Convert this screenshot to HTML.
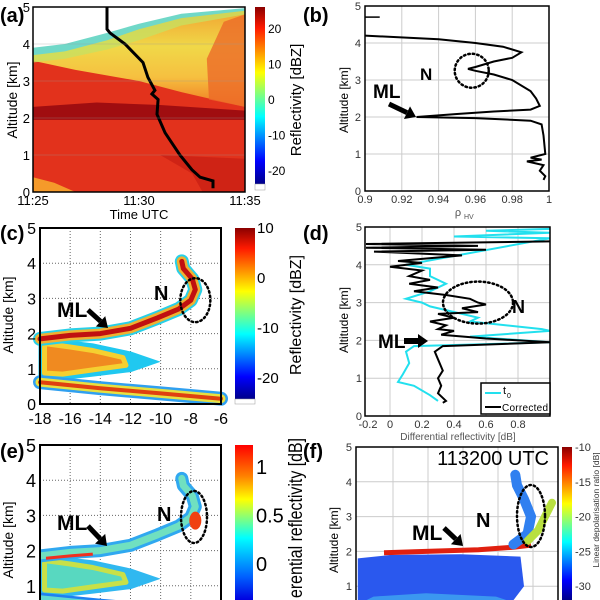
<!DOCTYPE html>
<html><head><meta charset="utf-8">
<style>
html,body{margin:0;padding:0;background:#fff;overflow:hidden;width:600px;height:600px;}
svg{display:block;font-family:"Liberation Sans",Arial,sans-serif;}
</style></head>
<body>
<svg id="fig" width="600" height="600" viewBox="0 0 600 600" xmlns="http://www.w3.org/2000/svg">
<defs>
<linearGradient id="jetV" x1="0" y1="0" x2="0" y2="1">
<stop offset="0" stop-color="#8a0000"/><stop offset="0.12" stop-color="#ff1a00"/><stop offset="0.37" stop-color="#ffff00"/><stop offset="0.62" stop-color="#00ffff"/><stop offset="0.87" stop-color="#0000ff"/><stop offset="1" stop-color="#00008a"/>
</linearGradient>
<linearGradient id="jetE" x1="0" y1="0" x2="0" y2="1">
<stop offset="0" stop-color="#ff0000"/><stop offset="0.2" stop-color="#ff8000"/><stop offset="0.35" stop-color="#ffff00"/><stop offset="0.6" stop-color="#00ffff"/><stop offset="0.85" stop-color="#0060ff"/><stop offset="1" stop-color="#0000e0"/>
</linearGradient>
<linearGradient id="upA" x1="0" y1="1" x2="0" y2="0">
<stop offset="0" stop-color="#f07a22"/><stop offset="0.3" stop-color="#f6c040"/><stop offset="0.6" stop-color="#f0d848"/><stop offset="1" stop-color="#f2a030"/>
</linearGradient>
<clipPath id="clipA"><rect x="33" y="7" width="212" height="185"/></clipPath>
<clipPath id="clipE"><rect x="40" y="445" width="181" height="155"/></clipPath>
<clipPath id="clipF"><rect x="356" y="447" width="202" height="153"/></clipPath>
<clipPath id="clipAll"><rect x="0" y="0" width="600" height="600"/></clipPath>
</defs>
<g id="root" clip-path="url(#clipAll)"></g>
</svg>
<script>
// ---- data: panel (a) profile track (minutes after 11:25, altitude km)
var trackTime = [3.49,3.49,3.63,4.34,5.19,5.42,5.75,5.61,5.90,5.85,6.23,6.93,7.5,7.88,8.49,8.49];
var trackAlt  = [5.0,4.4,4.3,4.0,3.5,3.1,2.75,2.65,2.5,2.1,1.6,1.0,0.6,0.4,0.3,0.1];
var aColorTicks = [20,10,0,-10,-20];
// ---- panel (b) rhoHV profile
var rhoVal = [0.9,0.94,0.96,0.975,0.985,0.98,0.97,0.96,0.956,0.96,0.97,0.98,0.99,0.993,0.995,0.99,0.97,0.95,0.928,0.96,0.99,0.996,0.997,0.998,0.99,0.996,0.988,0.997,0.995,0.998,0.997];
var rhoAlt = [4.2,4.1,4.0,3.9,3.75,3.6,3.5,3.35,3.3,3.25,3.15,3.0,2.7,2.5,2.3,2.2,2.15,2.08,2.0,1.97,1.9,1.8,1.5,1.0,0.9,0.85,0.8,0.7,0.55,0.4,0.3];
var bXTicks = [0.9,0.92,0.94,0.96,0.98,1];
// ---- panel (d) differential reflectivity profiles
var zdrCorr = [1.0,-0.15,0.55,-0.15,0.6,-0.1,0.45,0.05,0.2,0.0,0.2,0.12,0.25,0.12,0.3,0.15,0.35,0.5,0.55,0.6,0.45,0.55,0.3,0.4,0.25,0.35,0.3,0.4,0.32,0.6,1.0,0.33,0.28,0.3,0.33,0.3,0.32,0.3,0.35,0.33];
var altCorr = [4.62,4.55,4.5,4.45,4.4,4.35,4.25,4.1,4.05,3.95,3.85,3.7,3.6,3.5,3.4,3.3,3.2,3.1,3.0,2.95,2.85,2.75,2.7,2.6,2.5,2.4,2.3,2.25,2.15,2.05,1.95,1.85,1.7,1.5,1.2,1.0,0.8,0.6,0.4,0.35];
var zdrT0 = [1.0,0.6,1.0,0.4,1.0,0.1,0.25,0.25,0.35,0.25,0.1,0.2,0.25,0.45,0.55,0.5,0.95,1.0,0.5,1.0,0.15,0.1,0.12,0.08,0.05,0.15,0.25,0.3];
var altT0  = [4.95,4.9,4.85,4.75,4.7,4.0,3.9,3.7,3.5,3.3,3.1,3.0,2.9,2.7,2.6,2.5,2.3,2.25,2.1,1.95,1.85,1.7,1.4,1.1,0.9,0.8,0.55,0.4];
var dXTicks = [-0.2,0,0.2,0.4,0.6,0.8];
var altTicks = [0,1,2,3,4,5];
var cXTicks = [-18,-16,-14,-12,-10,-8,-6];
var cColorTicks = [10,0,-10,-20];
var eColorTicks = [1,0.5,0];
var fColorTicks = [-10,-15,-20,-25,-30];

var NS="http://www.w3.org/2000/svg";
var root=document.getElementById('root');
function el(tag,attrs,parent,txt){var e=document.createElementNS(NS,tag);for(var k in attrs)e.setAttribute(k,attrs[k]);if(txt!==undefined)e.textContent=txt;(parent||root).appendChild(e);return e;}
function path(xs,ys,sx,sy){var d='';for(var i=0;i<xs.length;i++)d+=(i?'L':'M')+sx(xs[i]).toFixed(1)+','+sy(ys[i]).toFixed(1);return d;}
function poly(pts,sx,sy){return pts.map(function(p){return sx(p[0]).toFixed(1)+','+sy(p[1]).toFixed(1);}).join(' ');}
function label(x,y,t,size,extra){var e=el('text',{x:x,y:y,'font-size':size,'fill':'#000'},root,t);if(extra)for(var k in extra)e.setAttribute(k,extra[k]);return e;}
function arrow(x1,y1,x2,y2,w){var g=el('g',{});var a=Math.atan2(y2-y1,x2-x1),hl=10,hw=7;var bx=x2-hl*Math.cos(a),by=y2-hl*Math.sin(a);
 el('line',{x1:x1,y1:y1,x2:bx,y2:by,stroke:'#000','stroke-width':w||5},g);
 el('polygon',{points:x2+','+y2+' '+(bx+hw*Math.sin(a))+','+(by-hw*Math.cos(a))+' '+(bx-hw*Math.sin(a))+','+(by+hw*Math.cos(a)),fill:'#000'},g);return g;}

// ================= Panel (a)
var ax=function(t){return 33+t*21.2;}, ay=function(a){return 192-a*37;};
var pa=el('g',{'clip-path':'url(#clipA)'});


el('rect',{x:33,y:7,width:212,height:185,fill:'#e2321c'},pa);
el('polygon',{points:poly([[0,0],[2,0],[1,0.25],[0,0.4]],ax,ay),fill:'#f59a2a'},pa);
el('polygon',{points:poly([[0,3.55],[2,3.3],[5,3.0],[7,2.7],[10,2.3],[10,5],[0,5]],ax,ay),fill:'url(#upA)'},pa);
el('polygon',{points:poly([[8.3,2.5],[10,2.3],[10,4.8],[9,4.6],[8.2,3.6]],ax,ay),fill:'#ec6a28',opacity:0.8},pa);
el('polygon',{points:poly([[0,3.5],[1.5,3.6],[3.5,3.85],[5,4.1],[7,4.5],[10,4.8],[10,5],[0,5]],ax,ay),fill:'#c8e060',opacity:0.8},pa);
el('polygon',{points:poly([[0,3.7],[1.5,3.8],[3.5,4.1],[5,4.4],[7,4.7],[10,4.9],[10,5],[0,5]],ax,ay),fill:'#70d8c8'},pa);
el('polygon',{points:poly([[0,3.9],[1.5,4.0],[3.5,4.3],[5,4.55],[7,4.82],[10,4.97],[10,5],[0,5]],ax,ay),fill:'#fff'},pa);
el('polygon',{points:poly([[0,1.95],[10,1.95],[10,2.2],[6,2.35],[3,2.42],[0,2.3]],ax,ay),fill:'#a00d10'},pa);
el('polygon',{points:poly([[6,1.0],[10,0.9],[10,0],[8,0],[7.5,0.5]],ax,ay),fill:'#c81c12',opacity:0.7},pa);
var tr=el('path',{d:path(trackTime,trackAlt,ax,ay),fill:'none',stroke:'#000','stroke-width':3},pa);


altTicks.forEach(function(v){if(v>0&&v<5)el('line',{x1:33,x2:245,y1:ay(v),y2:ay(v),stroke:'#999','stroke-width':0.5,opacity:0.6},pa);});
el('rect',{x:33,y:7,width:212,height:185,fill:'none',stroke:'#000','stroke-width':1.5});
altTicks.forEach(function(v){label(30,ay(v)+5,String(v),13,{'text-anchor':'end'});});
['11:25','11:30','11:35'].forEach(function(s,i){label(33+i*106,205,s,13,{'text-anchor':'middle'});});
label(139,219,'Time UTC',13,{'text-anchor':'middle'});
label(17,100,'Altitude [km]',14,{'text-anchor':'middle',transform:'rotate(-90 17 100)'});
el('rect',{x:255,y:7,width:10,height:177,fill:'url(#jetV)'});
el('rect',{x:255,y:184,width:10,height:6,fill:'#fff',stroke:'#999','stroke-width':0.5});
aColorTicks.forEach(function(v){label(268,99-v*3.55+5,String(v),12);});
label(301,100,'Reflectivity [dBZ]',15,{'text-anchor':'middle',transform:'rotate(-90 301 100)'});
label(0,22,'(a)',20,{'font-weight':'bold'});

// ================= Panel (b)
var bx=function(v){return 365+(v-0.9)*1840;}, by=function(a){return 191-a*37;};
var pb=el('g',{});


bXTicks.forEach(function(v){if(v>0.9&&v<1)el('line',{x1:bx(v),x2:bx(v),y1:6,y2:191,stroke:'#ccc'},pb);label(bx(v),203,String(v),11,{'text-anchor':'middle',fill:'#333'});});
altTicks.forEach(function(v){if(v>0&&v<5)el('line',{x1:365,x2:549,y1:by(v),y2:by(v),stroke:'#ccc'},pb);label(361,by(v)+4,String(v),11,{'text-anchor':'end',fill:'#333'});});
el('line',{x1:bx(0.9),x2:bx(0.908),y1:by(4.7),y2:by(4.7),stroke:'#000','stroke-width':1.5},pb);
var lb=el('path',{d:path(rhoVal,rhoAlt,bx,by),fill:'none',stroke:'#000','stroke-width':2},pb);


el('rect',{x:365,y:6,width:184,height:185,fill:'none',stroke:'#000','stroke-width':1.5},pb);
el('ellipse',{cx:bx(0.958),cy:by(3.25),rx:17,ry:17,fill:'none',stroke:'#000','stroke-width':2.5,'stroke-dasharray':'1.5 3','stroke-linecap':'round'},pb);
label(420,80,'N',17,{'font-weight':'bold'});
label(373,98,'ML',19,{'font-weight':'bold'});
arrow(389,104,416,117,5);
label(458,216,'ρ',11,{'text-anchor':'middle',fill:'#555'});
label(464,219,'HV',7,{fill:'#555'});
label(348,100,'Altitude [km]',12,{'text-anchor':'middle',transform:'rotate(-90 348 100)'});
label(303,22,'(b)',20,{'font-weight':'bold'});

// ================= Panel (c) & (e) shared geometry
function band(g,sx,sy,xs,ys,widths,colors){for(var i=0;i<widths.length;i++)el('path',{d:path(xs,ys,sx,sy),fill:'none',stroke:colors[i],'stroke-width':widths[i],'stroke-linejoin':'round','stroke-linecap':'round'},g);}
function wedge(g,sx,sy,outer,inner,c1,c2,c3){el('polygon',{points:poly(outer,sx,sy),fill:c1,stroke:c1,'stroke-width':3},g);el('polygon',{points:poly(inner,sx,sy),fill:c2,stroke:c3,'stroke-width':5,'stroke-linejoin':'round'},g);}
var wOuter=[[-18,1.85],[-16.5,1.78],[-14.5,1.68],[-12,1.45],[-10.3,1.2],[-12,0.95],[-14.5,0.82],[-17,0.7],[-18,0.75]];
var wInner=[[-17.7,1.72],[-16,1.62],[-14.5,1.52],[-12.5,1.32],[-12.3,1.1],[-14.5,0.97],[-16.5,0.85],[-17.7,0.88]];
var mlX=[-18,-16,-14,-12,-10.2,-8.8,-8.0,-7.7,-7.9,-8.5,-8.6];
var mlY=[1.85,1.95,2.0,2.15,2.45,2.7,2.95,3.25,3.55,3.85,4.05];
var loX=[-18,-14,-10,-6], loY=[0.62,0.45,0.3,0.15];

var cx=function(v){return 40+(v+18)*15.08;}, cy=function(a){return 404-a*35.2;};
var pc=el('g',{});


cXTicks.forEach(function(v){if(v>-18&&v<-6)el('line',{x1:cx(v),x2:cx(v),y1:228,y2:404,stroke:'#666','stroke-dasharray':'1 2'},pc);label(cx(v),424,String(v),16,{'text-anchor':'middle'});});
altTicks.forEach(function(v){if(v>0&&v<5)el('line',{x1:40,x2:221,y1:cy(v),y2:cy(v),stroke:'#666','stroke-dasharray':'1 2'},pc);label(36,cy(v)+6,String(v),16,{'text-anchor':'end'});});
wedge(pc,cx,cy,wOuter,wInner,'#20c8f0','#f08a20','#f5d030');
band(pc,cx,cy,loX,loY,[14,9,4],['#30a0f0','#e8e040','#e04010']);
band(pc,cx,cy,mlX,mlY,[14,10,5],['#28d0e8','#f0b030','#c01010']);
el('rect',{x:40,y:228,width:181,height:176,fill:'none',stroke:'#000','stroke-width':2},pc);
el('ellipse',{cx:cx(-7.7),cy:cy(2.95),rx:15,ry:22,fill:'none',stroke:'#000','stroke-width':2.5,'stroke-dasharray':'1.5 3','stroke-linecap':'round'},pc);
label(154,300,'N',20,{'font-weight':'bold'});
label(57,317,'ML',21,{'font-weight':'bold'});
arrow(88,310,108,328,5);
el('rect',{x:235,y:228,width:20,height:171,fill:'url(#jetV)'},pc);
el('rect',{x:235,y:399,width:20,height:5,fill:'#fff',stroke:'#999','stroke-width':0.5},pc);
cColorTicks.forEach(function(v){label(257,277-v*5.0+6,String(v),15);});
label(301,315,'Reflectivity [dBZ]',16,{'text-anchor':'middle',transform:'rotate(-90 301 315)'});
label(13,315,'Altitude [km]',14,{'text-anchor':'middle',transform:'rotate(-90 13 315)'});
label(0,240,'(c)',20,{'font-weight':'bold'});

// ================= Panel (d)
var dx=function(v){return 390+v*160;}, dy=function(a){return 416-a*37.8;};
var pd=el('g',{});


dXTicks.forEach(function(v){if(v>-0.2)el('line',{x1:dx(v),x2:dx(v),y1:227,y2:416,stroke:'#ccc'},pd);label(Math.max(dx(v),368),428,String(v),11,{'text-anchor':'middle',fill:'#333'});});
altTicks.forEach(function(v){if(v>0&&v<5)el('line',{x1:365,x2:550,y1:dy(v),y2:dy(v),stroke:'#ccc'},pd);label(362,dy(v)+4,String(v),11,{'text-anchor':'end',fill:'#333'});});
var lt=el('path',{d:path(zdrT0,altT0,dx,dy),fill:'none',stroke:'#22e0ee','stroke-width':2},pd);


var lc=el('path',{d:path(zdrCorr,altCorr,dx,dy),fill:'none',stroke:'#000','stroke-width':2},pd);


el('rect',{x:365,y:227,width:185,height:189,fill:'none',stroke:'#000','stroke-width':1.5},pd);
el('ellipse',{cx:dx(0.55),cy:dy(3.0),rx:35,ry:21,fill:'none',stroke:'#000','stroke-width':2.5,'stroke-dasharray':'1.5 3','stroke-linecap':'round'},pd);
label(512,313,'N',18,{'font-weight':'bold'});
label(378,348,'ML',19,{'font-weight':'bold'});
arrow(404,341,428,341,6);
var lg=el('g',{});


el('rect',{x:481,y:383,width:69,height:31,fill:'#fff',stroke:'#000','stroke-width':1.5},lg);
el('line',{x1:485,x2:501,y1:393,y2:393,stroke:'#22e0ee','stroke-width':2},lg);
el('line',{x1:485,x2:501,y1:407,y2:407,stroke:'#000','stroke-width':2},lg);
el('text',{x:503,y:394,'font-size':11},lg,'t');
el('text',{x:507,y:398,'font-size':7},lg,'0');
el('text',{x:502,y:411,'font-size':10,textLength:46},lg,'Corrected');
label(458,440,'Differential reflectivity [dB]',10,{'text-anchor':'middle',fill:'#555'});
label(348,320,'Altitude [km]',12,{'text-anchor':'middle',transform:'rotate(-90 348 320)'});
label(303,240,'(d)',20,{'font-weight':'bold'});

// ================= Panel (e)
var ey=function(a){return 621-a*35.2;};
var pe=el('g',{});


var peData=el('g',{'clip-path':'url(#clipE)'},pe);
cXTicks.forEach(function(v){if(v>-18&&v<-6)el('line',{x1:cx(v),x2:cx(v),y1:445,y2:600,stroke:'#666','stroke-dasharray':'1 2'},peData);});
altTicks.forEach(function(v){if(v>0&&v<5)el('line',{x1:40,x2:221,y1:ey(v),y2:ey(v),stroke:'#666','stroke-dasharray':'1 2'},peData);if(v>0)label(36,ey(v)+7,String(v),18,{'text-anchor':'end'});});
wedge(peData,cx,ey,wOuter,wInner,'#30b8f0','#58d8c0','#c8e048');
band(peData,cx,ey,loX,loY,[13,8],['#2080f0','#60d8d0']);
band(peData,cx,ey,mlX,mlY,[13,7],['#30a8f0','#70e0c0']);
el('path',{d:path([-17.6,-16,-14.5],[1.78,1.85,1.9],cx,ey),stroke:'#f03020','stroke-width':3,fill:'none'},peData);
el('ellipse',{cx:cx(-7.7),cy:ey(2.85),rx:6,ry:9,fill:'#f04010'},peData);
el('path',{d:'M40,600 L40,445 L221,445 L221,600',fill:'none',stroke:'#000','stroke-width':2},pe);
el('ellipse',{cx:194,cy:517,rx:13,ry:26,fill:'none',stroke:'#000','stroke-width':2.5,'stroke-dasharray':'1.5 3','stroke-linecap':'round'},pe);
label(157,521,'N',20,{'font-weight':'bold'});
label(57,530,'ML',21,{'font-weight':'bold'});
arrow(88,526,107,546,5);
el('rect',{x:235,y:445,width:18,height:155,fill:'url(#jetE)'},pe);
eColorTicks.forEach(function(v){label(256,563-v*97+8,String(v),20);});
label(302,438,'erential reflectivity [dB]',19,{'text-anchor':'end',textLength:160,lengthAdjust:'spacingAndGlyphs',transform:'rotate(-90 302 438)'});
label(13,540,'Altitude [km]',14,{'text-anchor':'middle',transform:'rotate(-90 13 540)'});
label(0,458,'(e)',20,{'font-weight':'bold'});

// ================= Panel (f)
var fx=function(u){return 356+u*35;}, fy=function(a){return 621-a*34.8;};
var pf=el('g',{});


var pfData=el('g',{'clip-path':'url(#clipF)'},pf);
[1,2,3,4,5].forEach(function(u){el('line',{x1:fx(u)+2,x2:fx(u)+2,y1:447,y2:600,stroke:'#ccc'},pfData);});
altTicks.forEach(function(v){if(v>0&&v<5)el('line',{x1:356,x2:558,y1:fy(v),y2:fy(v),stroke:'#ccc'},pfData);if(v>0)label(352,fy(v)+4,String(v),11,{'text-anchor':'end',fill:'#333'});});
el('polygon',{points:poly([[0.05,0.6],[0.05,1.8],[1,1.9],[3,1.92],[4.7,1.85],[4.8,1.0],[4.5,0.6]],fx,fy),fill:'#2a58ee'},pfData);
el('polygon',{points:poly([[0.3,0.6],[0.5,0.7],[2,0.8],[4,0.7],[4.3,0.6]],fx,fy),fill:'#40a8f0',opacity:0.8},pfData);
el('path',{d:path([0.8,2,3.5,4.5,5.0],[1.96,2.0,2.05,2.12,2.18],fx,fy),stroke:'#e02010','stroke-width':5,fill:'none'},pfData);
el('path',{d:path([4.5,4.9,5.0,4.8,4.6,4.55],[2.2,2.5,3.0,3.5,3.9,4.2],fx,fy),stroke:'#3080f0','stroke-width':10,fill:'none','stroke-linecap':'round'},pfData);
el('path',{d:path([4.9,5.2,5.4,5.6],[2.3,2.6,3.0,3.4],fx,fy),stroke:'#b8e040','stroke-width':8,fill:'none','stroke-linecap':'round'},pfData);
el('path',{d:'M356,600 L356,447 L558,447 L558,600',fill:'none',stroke:'#000','stroke-width':1.5},pf);
el('ellipse',{cx:531,cy:516,rx:14,ry:31,fill:'none',stroke:'#000','stroke-width':2.5,'stroke-dasharray':'1.5 3','stroke-linecap':'round'},pf);
label(476,527,'N',20,{'font-weight':'bold'});
label(412,540,'ML',21,{'font-weight':'bold'});
arrow(444,528,463,546,5);
label(549,465,'113200 UTC',20,{'text-anchor':'end'});
el('rect',{x:562,y:447,width:10,height:153,fill:'url(#jetV)'},pf);
fColorTicks.forEach(function(v){label(575,447+(-10-v)*6.95+4,String(v),11,{fill:'#333'});});
label(599,510,'Linear depolarisation ratio [dB]',8.5,{'text-anchor':'middle',fill:'#333',transform:'rotate(-90 599 510)'});
label(338,540,'Altitude [km]',12,{'text-anchor':'middle',transform:'rotate(-90 338 540)'});
label(303,458,'(f)',20,{'font-weight':'bold'});
</script>
</body></html>
